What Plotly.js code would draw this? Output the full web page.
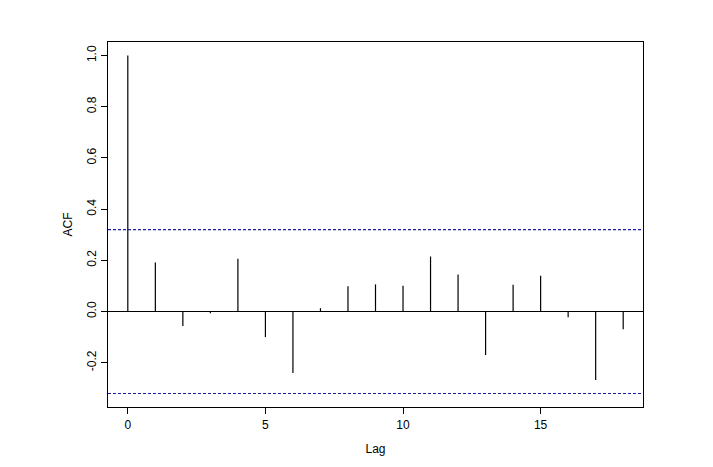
<!DOCTYPE html>
<html>
<head>
<meta charset="utf-8">
<script src="https://cdn.plot.ly/plotly-3.0.1.min.js"></script>
<style>html,body{margin:0;padding:0;background:#fff;}#chart{width:713px;height:467px;}</style>
</head>
<body>
<div id="chart"></div>
<script>
const lags = [0,1,2,3,4,5,6,7,8,9,10,11,12,13,14,15,16,17,18];
const acf = [1.0,0.192,-0.057,-0.007,0.206,-0.100,-0.240,0.013,0.099,0.106,0.101,0.215,0.145,-0.170,0.105,0.140,-0.022,-0.268,-0.069];
const ciLevel = 0.32;
const yTickVals = [-0.2,0.0,0.2,0.4,0.6,0.8,1.0];
const yTickText = ["-0.2","0.0","0.2","0.4","0.6","0.8","1.0"];
const xTickVals = [0,5,10,15];

const sx = [], sy = [];
lags.forEach((l,i)=>{ sx.push(l,l,null); sy.push(0,acf[i],null); });

const traces = [
  {x: sx, y: sy, type:'scatter', mode:'lines', line:{color:'#000', width:1.2}, hoverinfo:'skip', showlegend:false},
  {x:[-0.72,18.72], y:[ciLevel,ciLevel], type:'scatter', mode:'lines', line:{color:'#1c1ca0', width:1.1, dash:'3px,2px'}, showlegend:false},
  {x:[-0.72,18.72], y:[-ciLevel,-ciLevel], type:'scatter', mode:'lines', line:{color:'#1c1ca0', width:1.1, dash:'3px,2px'}, showlegend:false}
];

const font = {family:'"Liberation Sans", Arial, sans-serif', size:12, color:'#000'};
const layout = {
  width:713, height:467,
  margin:{l:108, r:70, t:42, b:60},
  paper_bgcolor:'#fff', plot_bgcolor:'#fff',
  font: font,
  showlegend:false,
  xaxis:{
    range:[-0.72,18.72], tickvals:xTickVals, ticktext:xTickVals.map(String),
    ticks:'outside', ticklen:6, tickwidth:1, tickcolor:'#000',
    showgrid:false, zeroline:false, showline:true, linecolor:'#000', linewidth:1.2, mirror:true,
    title:{text:'Lag', font:font, standoff:14}, tickfont:font
  },
  yaxis:{
    range:[-0.373,1.053], tickvals:yTickVals, ticktext:yTickText,
    ticks:'outside', ticklen:6, tickwidth:1, tickcolor:'#000', tickangle:-90,
    showgrid:false, zeroline:true, zerolinecolor:'#000', zerolinewidth:1.2,
    showline:true, linecolor:'#000', linewidth:1.2, mirror:true,
    title:{text:'ACF', font:font, standoff:9}, tickfont:font
  }
};
Plotly.newPlot('chart', traces, layout, {displayModeBar:false, staticPlot:true});
</script>
</body>
</html>
